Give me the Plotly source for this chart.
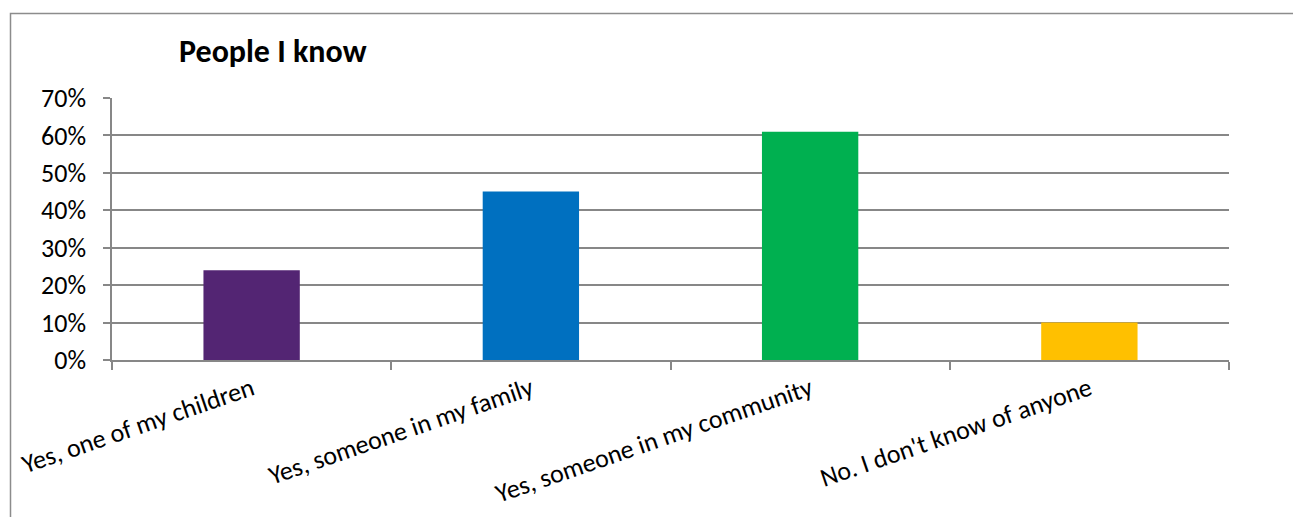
import plotly.graph_objects as go

# Survey responses: share of respondents who know someone affected
categories = [
    "Yes, one of my children",
    "Yes, someone in my family",
    "Yes, someone in my community",
    "No. I don't know of anyone",
]
shares = [0.24, 0.45, 0.61, 0.10]
bar_colors = ["#532573", "#0070C0", "#00B050", "#FFC000"]
y_ticks = [0, 0.1, 0.2, 0.3, 0.4, 0.5, 0.6, 0.7]
y_tick_labels = ["0%", "10%", "20%", "30%", "40%", "50%", "60%", "70%"]

W, H = 1293, 517
L, R, T, B = 112, 64, 98, 157
plot_w = W - L - R
plot_h = H - T - B

FONT = "Calibri, Carlito, Lato, sans-serif"
GRID = "#878787"

fig = go.Figure(
    go.Bar(
        x=categories,
        y=shares,
        marker=dict(color=bar_colors, line=dict(width=0)),
        width=0.345,
        hoverinfo="x+y",
    )
)

# Outer chart frame (runs off the right and bottom of the page)
def px_to_paper_x(px):
    return (px - L) / plot_w

def py_to_paper_y(py):
    return (H - B - py) / plot_h

fig.add_shape(
    type="rect",
    xref="paper", yref="paper",
    x0=px_to_paper_x(10.5), x1=px_to_paper_x(1400),
    y0=py_to_paper_y(13.5), y1=py_to_paper_y(700),
    line=dict(color="#8c8c8c", width=1.5),
    fillcolor="rgba(0,0,0,0)",
    layer="below",
)

fig.update_layout(
    width=W,
    height=H,
    margin=dict(l=L, r=R, t=T, b=B, pad=0, autoexpand=False),
    paper_bgcolor="white",
    plot_bgcolor="white",
    showlegend=False,
    font=dict(family=FONT, size=26, color="black"),
    title=dict(
        text="<b>People I know</b>",
        font=dict(family=FONT, size=32, color="black"),
        xref="container", yref="container",
        x=179 / W, xanchor="left",
        y=1 - 51 / H, yanchor="middle",
    ),
)

fig.update_xaxes(
    type="category",
    automargin=False,
    tickangle=-19,
    showline=True,
    linecolor=GRID,
    linewidth=1.5,
    ticks="outside",
    tickson="boundaries",
    ticklen=8,
    tickcolor=GRID,
    tickwidth=1.5,
    showgrid=False,
    ticklabelstandoff=2,
    tickfont=dict(family=FONT, size=26, color="black"),
)

fig.update_yaxes(
    range=[0, 0.7],
    automargin=False,
    tickvals=y_ticks,
    ticktext=y_tick_labels,
    showline=True,
    linecolor=GRID,
    linewidth=1.5,
    ticks="outside",
    ticklen=7,
    tickcolor=GRID,
    tickwidth=1.5,
    showgrid=True,
    gridcolor=GRID,
    gridwidth=1.5,
    zeroline=False,
    ticklabelstandoff=12,
    tickfont=dict(family=FONT, size=26, color="black"),
)

fig.write_html("out.html")
